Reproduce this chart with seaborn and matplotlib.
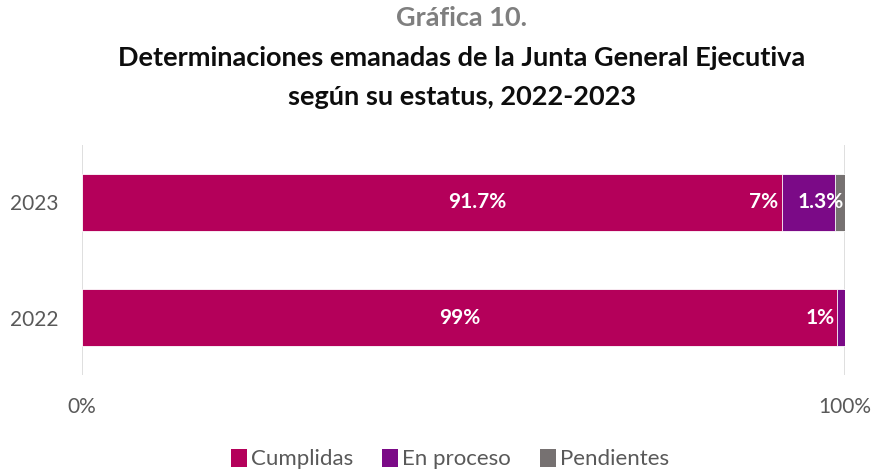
import matplotlib
matplotlib.use("Agg")
import matplotlib.pyplot as plt
from matplotlib.patches import Patch
import seaborn as sns
import pandas as pd
import numpy as np

years = ["2023", "2022"]
cumplidas = [91.7, 99.0]
en_proceso = [7.0, 1.0]
pendientes = [1.3, 0.0]
series_names = ["Cumplidas", "En proceso", "Pendientes"]
colors = ["#B4005A", "#7B0A87", "#767171"]
x_ticks = [0, 100]
x_ticklabels = ["0%", "100%"]

sns.set_theme(style="white")
plt.rcParams["font.family"] = ["Lato", "DejaVu Sans"]

fig = plt.figure(figsize=(8.76, 4.73), dpi=100)
ax = fig.add_axes([82 / 876, 1 - 375 / 473, (845 - 82) / 876, 230 / 473])

df = pd.DataFrame({"year": years, "Cumplidas": cumplidas,
                   "En proceso": en_proceso, "Pendientes": pendientes})
df["c1"] = df["Cumplidas"]
df["c2"] = df["c1"] + df["En proceso"]
df["c3"] = df["c2"] + df["Pendientes"]

# draw cumulative totals back to front
for col, color in zip(["c3", "c2", "c1"], colors[::-1]):
    sns.barplot(data=df, y="year", x=col, orient="h", color=color,
                width=0.5, ax=ax, edgecolor="white", linewidth=0.6,
                saturation=1)

ax.set_xlim(0, 100)
ax.set_ylim(1.5, -0.5)
ax.set_xlabel("")
ax.set_ylabel("")
for s in ax.spines.values():
    s.set_visible(False)
for xv in x_ticks:
    ax.axvline(xv, color="#D9D9D9", lw=1.2, zorder=0)
ax.set_xticks(x_ticks)
ax.set_xticklabels(x_ticklabels)
ax.tick_params(axis="x", length=0, pad=16, labelsize=15, labelcolor="#595959")
ax.tick_params(axis="y", length=0, pad=17, labelsize=15, labelcolor="#595959")

lab_kw = dict(color="white", fontweight="bold", fontsize=15, va="center")
# 2023 labels
c1, c2, c3 = df.loc[0, ["c1", "c2", "c3"]]
ax.text(c1 * 0.565, 0, f"{cumplidas[0]:g}%", ha="center", **lab_kw)
ax.text(c1 - 0.5, 0, f"{en_proceso[0]:g}%", ha="right", **lab_kw)
ax.text(c3 - 0.1, 0, f"{pendientes[0]:g}%", ha="right", **lab_kw)
# 2022 labels
c1b = df.loc[1, "c1"]
ax.text(c1b / 2, 1, f"{cumplidas[1]:g}%", ha="center", **lab_kw)
ax.text(c1b - 0.3, 1, f"{en_proceso[1]:g}%", ha="right", **lab_kw)

tx = 462 / 876
tkw = dict(ha="center", va="center", fontsize=19.5, fontweight="bold")
fig.text(tx, 1 - 18 / 473, "Gráfica 10.", color="#7F7F7F", **tkw)
fig.text(tx, 1 - 58 / 473, "Determinaciones emanadas de la Junta General Ejecutiva",
         color="#0D0D0D", **tkw)
fig.text(tx, 1 - 97 / 473, "según su estatus, 2022-2023", color="#0D0D0D", **tkw)

handles = [Patch(facecolor=c, edgecolor="none") for c in colors]
fig.legend(handles, series_names, loc="center", bbox_to_anchor=(0.514, 1 - 459 / 473),
           ncol=3, frameon=False, fontsize=16, handlelength=0.7, handleheight=0.9,
           handletextpad=0.2, columnspacing=1.3, labelcolor="#595959")

fig.savefig("out.png", dpi=100)
